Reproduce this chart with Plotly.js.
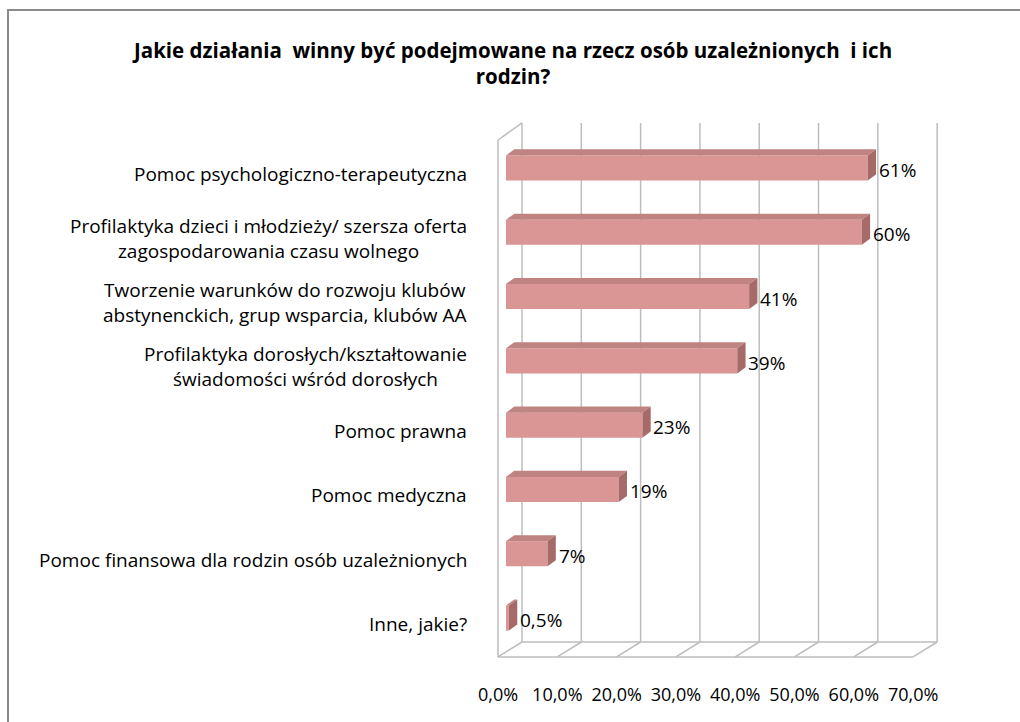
<!DOCTYPE html>
<html>
<head>
<meta charset="utf-8">
<script src="https://cdn.plot.ly/plotly-3.0.1.min.js"></script>
<style>
  html, body { margin: 0; padding: 0; background: #fff; }
  #wrap { position: relative; width: 1020px; height: 722px; }
  #chart { width: 1020px; height: 722px; }
  #frame { position: absolute; left: 7px; top: 9px; right: 0; bottom: 0;
           border-left: 2px solid #8a8a8a; border-top: 2px solid #8a8a8a; pointer-events: none; }
</style>
</head>
<body>
<div id="wrap"><div id="chart"></div><div id="frame"></div></div>
<script>
// ---- data ----
const categories = [
  'Pomoc psychologiczno-terapeutyczna',
  'Profilaktyka dzieci i młodzieży/ szersza oferta<br>zagospodarowania czasu wolnego',
  'Tworzenie warunków do rozwoju klubów<br>abstynenckich, grup wsparcia, klubów AA',
  'Profilaktyka dorosłych/kształtowanie<br>świadomości wśród dorosłych',
  'Pomoc prawna',
  'Pomoc medyczna',
  'Pomoc finansowa dla rodzin osób uzależnionych',
  'Inne, jakie?'
];
const values = [61, 60, 41, 39, 23, 19, 7, 0.5];
const valueLabels = ['61%', '60%', '41%', '39%', '23%', '19%', '7%', '0,5%'];
const tickVals = [0, 10, 20, 30, 40, 50, 60, 70];
const tickLabels = ['0,0%', '10,0%', '20,0%', '30,0%', '40,0%', '50,0%', '60,0%', '70,0%'];
const titleText = 'Jakie działania \u00a0winny być podejmowane na rzecz osób uzależnionych \u00a0i ich<br>rodzin?';

// ---- style / geometry constants ----
const FONT = '"Open Sans", Lato, sans-serif';
const FRONT = '#d99694', TOP = '#bf8381', SIDE = '#a66b69', GRID = '#bdbdbd';
const BAR_W = 0.39, DDX = 1.4, DDY = 0.095;
const BACK_DX = 2.7, FRONT_DX = -1.35;
const BACK_TOP = -0.70, BACK_BOT = 7.372, FRONT_BOT = 7.605, FRONT_TOP = -0.435;
const XR = [-2.698, 74.87], YR = [7.683, -0.824];

const idx = categories.map((c, i) => i);
const traces = [];

// front faces
traces.push({
  type: 'bar', orientation: 'h', x: values, y: idx, width: BAR_W,
  marker: { color: FRONT, line: { width: 0 } }, hoverinfo: 'skip', showlegend: false
});
// top & side faces
values.forEach((v, i) => {
  const yt = i - BAR_W / 2, yb = i + BAR_W / 2;
  traces.push({
    type: 'scatter', mode: 'lines', fill: 'toself', fillcolor: TOP, line: { width: 0, color: TOP },
    x: [0, v, v + DDX, DDX, 0], y: [yt, yt, yt - DDY, yt - DDY, yt],
    hoverinfo: 'skip', showlegend: false
  });
  traces.push({
    type: 'scatter', mode: 'lines', fill: 'toself', fillcolor: SIDE, line: { width: 0, color: SIDE },
    x: [v, v, v + DDX, v + DDX, v], y: [yb, yt, yt - DDY, yb - DDY, yb],
    hoverinfo: 'skip', showlegend: false
  });
});
// dummy trace for xaxis2 (tick labels on the front edge)
traces.push({ type: 'scatter', x: [tickVals[0]], y: [0], xaxis: 'x2', mode: 'markers',
  marker: { opacity: 0 }, hoverinfo: 'skip', showlegend: false });

// gridlines / walls as shapes below traces
const shapes = [];
const ln = (x0, y0, x1, y1) => shapes.push({ type: 'line', xref: 'x', yref: 'y', x0, y0, x1, y1,
  layer: 'below', line: { color: GRID, width: 1.5 } });
tickVals.forEach(v => {
  ln(v + BACK_DX, BACK_TOP, v + BACK_DX, BACK_BOT);
  ln(v + FRONT_DX, FRONT_BOT, v + BACK_DX, BACK_BOT);
});
const tMin = tickVals[0], tMax = tickVals[tickVals.length - 1];
ln(tMin + FRONT_DX, FRONT_BOT, tMax + FRONT_DX, FRONT_BOT);
ln(tMin + BACK_DX, BACK_BOT, tMax + BACK_DX, BACK_BOT);
ln(tMin + FRONT_DX, FRONT_TOP, tMin + FRONT_DX, FRONT_BOT);
ln(tMin + FRONT_DX, FRONT_TOP, tMin + BACK_DX, BACK_TOP);

// annotations: category labels and value labels
const annotations = [];
categories.forEach((c, i) => annotations.push({
  text: c, xref: 'paper', yref: 'y', x: -0.045, y: i, yshift: -6,
  xanchor: 'right', yanchor: 'middle', align: 'center', showarrow: false,
  font: { family: FONT, size: 19, color: '#000' }
}));
values.forEach((v, i) => annotations.push({
  text: valueLabels[i], xref: 'x', yref: 'y', x: v, y: i, xshift: 9, yshift: -2,
  xanchor: 'left', yanchor: 'middle', showarrow: false,
  font: { family: FONT, size: 19, color: '#000' }
}));

const layout = {
  width: 1020, height: 722,
  margin: { l: 490, r: 70, t: 115, b: 60 },
  paper_bgcolor: 'rgba(0,0,0,0)', plot_bgcolor: 'rgba(0,0,0,0)',
  separators: ', ',
  title: { text: titleText, x: 0.503, xanchor: 'center', y: 0.92, yanchor: 'middle',
           font: { family: FONT, size: 20.5, color: '#000', weight: 'bold' } },
  xaxis: { range: XR, visible: false, fixedrange: true },
  xaxis2: { overlaying: 'x', anchor: 'y', side: 'bottom',
            range: [XR[0] - FRONT_DX, XR[1] - FRONT_DX],
            tickvals: tickVals, ticktext: tickLabels, showgrid: false, zeroline: false,
            showline: false, ticks: '', ticklabelstandoff: 20,
            tickfont: { family: FONT, size: 18, color: '#000' } },
  yaxis: { range: YR, visible: false, fixedrange: true },
  shapes, annotations, showlegend: false
};

Plotly.newPlot('chart', traces, layout, { displayModeBar: false, staticPlot: true });
</script>
</body>
</html>
